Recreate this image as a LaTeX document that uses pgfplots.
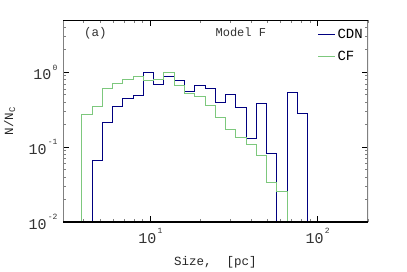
\documentclass[border=0pt]{standalone}
\usepackage{pgfplots}
\pgfplotsset{compat=1.18}
\usepackage{fontspec}
\setmainfont{Liberation Mono}
\definecolor{cdn}{RGB}{0,0,128}
\definecolor{cf}{RGB}{125,200,125}
\definecolor{axgray}{RGB}{128,128,128}
\newcommand\sups[1]{\raisebox{1.2ex}{\fontsize{8}{8}\selectfont\,#1}}
\begin{document}
\begin{tikzpicture}
\useasboundingbox (0pt,0pt) rectangle (407pt,271pt);
\begin{axis}[
  at={(63pt,49pt)}, anchor=south west,
  scale only axis, width=305pt, height=202pt,
  xmode=log, ymode=log,
  xmin=3, xmax=200, ymin=0.01, ymax=5,
  axis line style={draw=none},
  tick align=inside,
  major tick length=6pt, minor tick length=3.5pt,
  major tick style={black, line width=0.8pt},
  minor tick style={axgray, line width=0.8pt},
  xtick={10,100}, xticklabels={10\sups{1},10\sups{2}},
  minor xtick={3,4,5,6,7,8,9,20,30,40,50,60,70,80,90,200},
  ytick={0.01,0.1,1}, yticklabels={10\sups{-2},10\sups{-1},10\sups{0}},
  minor ytick={0.02,0.03,0.04,0.05,0.06,0.07,0.08,0.09,0.2,0.3,0.4,0.5,0.6,0.7,0.8,0.9,2,3,4},
  tick label style={font=\fontsize{15}{15}\selectfont, text=black!80},
  xticklabel style={yshift=-3pt},
  yticklabel style={xshift=-2pt},
  xlabel={Size,\ \ [pc]},
  ylabel={N/N\textsubscript{C}},
  label style={font=\fontsize{12.5}{12.5}\selectfont, text=black!85},
  xlabel style={at={(axis description cs:0.5,-0.2)}, anchor=center},
  ylabel style={at={(axis description cs:-0.175,0.5)}, anchor=center},
  legend style={at={(axis description cs:0.99,0.965)}, anchor=north east,
    draw=none, fill=none, font=\fontsize{14}{14}\selectfont, row sep=7pt, inner sep=0pt},
  legend cell align=left,
  legend image code/.code={\draw[#1] (0pt,0pt) -- (17pt,0pt);},
]
\addplot[const plot, draw=cdn, line width=0.8pt] coordinates {
(4.473,0.009) (4.473,0.067) (5.152,0.215) (5.935,0.348) (6.836,0.450)
(7.875,0.498) (9.071,1.0) (10.45,0.692) (12.03,0.893) (13.87,0.789)
(15.97,0.551) (18.40,0.663) (21.19,0.612) (24.41,0.398) (28.12,0.503)
(32.39,0.345) (37.31,0.132) (42.97,0.381) (49.50,0.0832) (57.02,0.009)
(65.68,0.535) (75.65,0.281) (87.10,0.281) (87.10,0.009)
};
\addlegendentry{CDN}
\addplot[const plot, draw=cf, line width=0.9pt] coordinates {
(3.883,0.009) (3.883,0.273) (4.473,0.348) (5.152,0.612) (5.935,0.713)
(6.836,0.807) (7.875,0.873) (9.071,0.789) (10.45,0.814) (12.03,1.0)
(13.87,0.663) (15.97,0.525) (18.40,0.473) (21.19,0.363) (24.41,0.248)
(28.12,0.175) (32.39,0.133) (37.31,0.108) (42.97,0.0766) (49.50,0.0337)
(57.02,0.0254) (65.68,0.0254) (65.68,0.009)
};
\addlegendentry{CF}
\draw[axgray, line width=2pt] (rel axis cs:0,0) -- (rel axis cs:0,1);
\draw[axgray, line width=2pt] (rel axis cs:1,0) -- (rel axis cs:1,1);
\draw[black, line width=1.2pt] (rel axis cs:0,0) -- (rel axis cs:1,0);
\draw[black, line width=1.2pt] (rel axis cs:0,1) -- (rel axis cs:1,1);
\node[anchor=west, font=\fontsize{12.5}{12.5}\selectfont, text=black!80] at (axis description cs:0.058,0.936) {(a)};
\node[anchor=center, font=\fontsize{12}{12}\selectfont, text=black!80] at (axis description cs:0.583,0.94) {Model F};
\end{axis}
\end{tikzpicture}
\end{document}
